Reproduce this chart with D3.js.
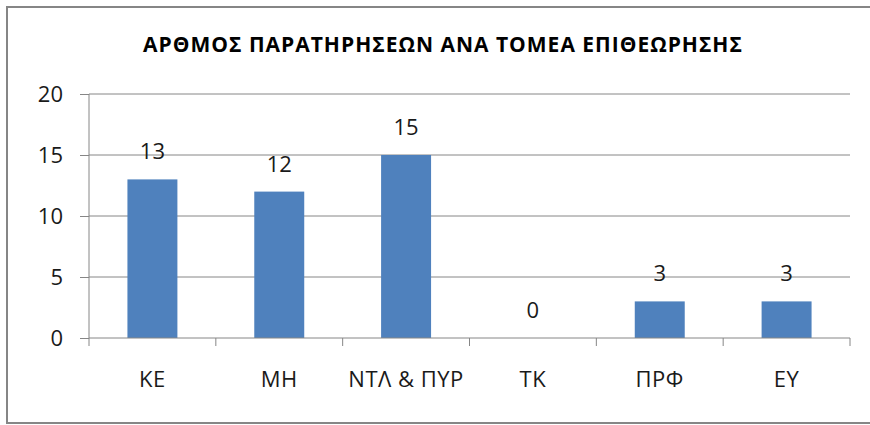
<!DOCTYPE html>
<html>
<head>
<meta charset="utf-8">
<script src="https://cdn.jsdelivr.net/npm/d3@7"></script>
<style>
	body { margin: 0; background: #fff; }
	svg { display: block; font-family: "Open Sans", sans-serif; }
</style>
</head>
<body>
<svg width="870" height="425"></svg>
<script>
'use strict';

const categories = ["ΚΕ", "ΜΗ", "ΝΤΛ & ΠΥΡ", "ΤΚ", "ΠΡΦ", "ΕΥ"];
const values = [13, 12, 15, 0, 3, 3];
const yTicks = [0, 5, 10, 15, 20];
const title = "ΑΡΘΜΟΣ ΠΑΡΑΤΗΡΗΣΕΩΝ ΑΝΑ ΤΟΜΕΑ ΕΠΙΘΕΩΡΗΣΗΣ";

const svg = d3.select("svg");
const plot = { left: 89, right: 850, top: 94, bottom: 338 };

// outer frame
svg.append("rect")
	.attr("x", 7).attr("y", 7)
	.attr("width", 880).attr("height", 416)
	.attr("fill", "none")
	.attr("stroke", "#868686")
	.attr("stroke-width", 2);

svg.append("text")
	.attr("x", 443).attr("y", 52)
	.attr("text-anchor", "middle")
	.attr("font-size", 21)
	.attr("letter-spacing", 1)
	.attr("font-weight", "bold")
	.attr("fill", "#000")
	.text(title);

const x = d3.scaleBand()
	.domain(categories)
	.range([plot.left, plot.right])
	.paddingInner(0.606)
	.paddingOuter(0.303);

const y = d3.scaleLinear()
	.domain([0, 20])
	.range([plot.bottom, plot.top]);

// gridlines + y axis
const yAxis = svg.append("g")
	.attr("transform", `translate(${plot.left},0)`)
	.call(d3.axisLeft(y).tickValues(yTicks).tickSize(9).tickPadding(17));
yAxis.select(".domain").remove();
yAxis.selectAll(".tick line").attr("stroke", "#868686");
yAxis.selectAll(".tick text")
	.attr("font-size", 22)
	.attr("font-family", "Open Sans, sans-serif")
	.attr("fill", "#1a1a1a");

svg.append("g")
	.selectAll("line")
	.data(yTicks.filter(d => d > 0))
	.enter().append("line")
	.attr("x1", plot.left).attr("x2", plot.right)
	.attr("y1", d => y(d)).attr("y2", d => y(d))
	.attr("stroke", "#868686");

svg.append("line")
	.attr("x1", plot.left).attr("x2", plot.left)
	.attr("y1", plot.top).attr("y2", plot.bottom)
	.attr("stroke", "#868686");

// bars
svg.append("g")
	.selectAll("rect")
	.data(values)
	.enter().append("rect")
	.attr("x", (d, i) => x(categories[i]))
	.attr("y", d => y(d))
	.attr("width", x.bandwidth())
	.attr("height", d => y(0) - y(d))
	.attr("fill", "#4f81bd");

// x axis with ticks between categories
const step = x.step();
svg.append("line")
	.attr("x1", plot.left).attr("x2", plot.right)
	.attr("y1", plot.bottom).attr("y2", plot.bottom)
	.attr("stroke", "#868686");
svg.append("g")
	.selectAll("line")
	.data(d3.range(categories.length + 1))
	.enter().append("line")
	.attr("x1", i => plot.left + i * step).attr("x2", i => plot.left + i * step)
	.attr("y1", plot.bottom).attr("y2", plot.bottom + 8)
	.attr("stroke", "#868686");

svg.append("g")
	.selectAll("text")
	.data(categories)
	.enter().append("text")
	.attr("x", d => x(d) + x.bandwidth() / 2)
	.attr("y", 387)
	.attr("text-anchor", "middle")
	.attr("font-size", 22)
	.attr("letter-spacing", 0.5)
	.attr("fill", "#1a1a1a")
	.text(d => d);

// value labels
svg.append("g")
	.selectAll("text")
	.data(values)
	.enter().append("text")
	.attr("x", (d, i) => x(categories[i]) + x.bandwidth() / 2)
	.attr("y", d => y(d) - 20)
	.attr("text-anchor", "middle")
	.attr("font-size", 22)
	.attr("fill", "#1a1a1a")
	.text(d => d);
</script>
</body>
</html>
